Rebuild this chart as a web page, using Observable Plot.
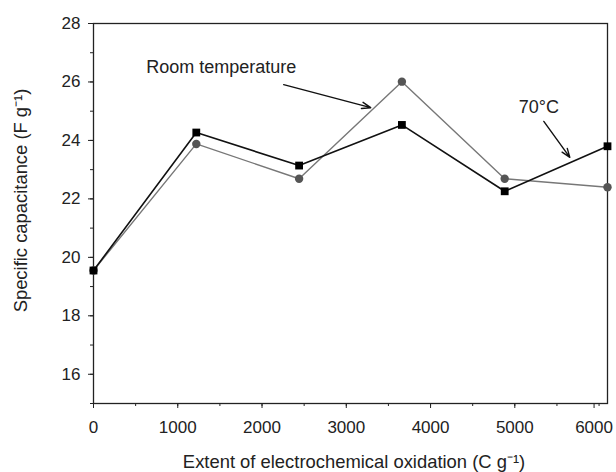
<!DOCTYPE html>
<html>
<head>
<meta charset="utf-8">
<script src="https://cdn.jsdelivr.net/npm/d3@7"></script>
<script src="https://cdn.jsdelivr.net/npm/@observablehq/plot@0.6"></script>
<style>
  html, body { margin: 0; padding: 0; background: #fff; }
  #chart svg { display: block; }
</style>
</head>
<body>
<div id="chart"></div>
<script>
// Data
const oxidation = [0, 1220, 2440, 3660, 4880, 6100];
const cap70C = [19.55, 24.27, 23.14, 24.53, 22.26, 23.8];
const capRoom = [19.55, 23.88, 22.69, 26.01, 22.69, 22.4];
const xTicks = [0, 1000, 2000, 3000, 4000, 5000];
const xTickLast = [6000];
const yTicks = [16, 18, 20, 22, 24, 26, 28];
const xLabel = "Extent of electrochemical oxidation (C g⁻¹)";
const yLabel = "Specific capacitance (F g⁻¹)";

// Annotations
const labels = [
  {text: "Room temperature", x: 1515, y: 26.52},
  {text: "70°C", x: 5285, y: 25.12}
];
const arrows = [
  {x1: 2257, y1: 25.91, x2: 3290, y2: 25.12},
  {x1: 5344, y1: 24.65, x2: 5653, y2: 23.42}
];

const room = oxidation.map((x, i) => ({x, y: capRoom[i]}));
const hot = oxidation.map((x, i) => ({x, y: cap70C[i]}));

const chart = Plot.plot({
  width: 616,
  height: 472,
  marginLeft: 93,
  marginRight: 9,
  marginTop: 23,
  marginBottom: 69,
  style: {fontFamily: "'Liberation Sans', Arial, sans-serif", fontSize: "17px", color: "#222"},
  x: {domain: [0, 6100]},
  y: {domain: [15, 28]},
  marks: [
    Plot.frame({stroke: "#222", strokeWidth: 1.3}),
    Plot.axisX({ticks: d3.range(0, 6001, 500), tickSize: 3, text: null, label: null, stroke: "#222"}),
    Plot.axisX({ticks: xTicks, tickSize: 5, tickPadding: 12, tickFormat: d => String(d), stroke: "#222", fill: "#222", fontSize: 17, label: null}),
    Plot.axisX({ticks: xTickLast, tickSize: 5, tickPadding: 12, tickFormat: d => String(d), stroke: "#222", fill: "#222", fontSize: 17, label: null, dx: -5}),
    Plot.axisY({ticks: d3.range(15, 28.1, 1), tickSize: 3, text: null, label: null, stroke: "#222"}),
    Plot.axisY({ticks: yTicks, tickSize: 5, tickPadding: 8, stroke: "#222", fill: "#222", fontSize: 17, label: null}),
    Plot.text([xLabel], {text: d => d, frameAnchor: "bottom", dx: 3.5, dy: 58.5, textAnchor: "middle", lineAnchor: "middle", fontSize: 18.4, fill: "#222"}),
    Plot.text([yLabel], {text: d => d, frameAnchor: "left", dx: -72.5, dy: -13, rotate: -90, textAnchor: "middle", lineAnchor: "middle", fontSize: 18.4, fill: "#222"}),
    Plot.line(room, {x: "x", y: "y", stroke: "#777", strokeWidth: 1.4}),
    Plot.line(hot, {x: "x", y: "y", stroke: "#111", strokeWidth: 1.6}),
    Plot.dot(room, {x: "x", y: "y", r: 4.2, fill: "#555", stroke: "none"}),
    Plot.dot(hot, {x: "x", y: "y", symbol: "square", r: 4.4, fill: "#000", stroke: "none"}),
    Plot.text(labels, {x: "x", y: "y", text: "text", fontSize: 18, fill: "#222"}),
    Plot.arrow(arrows, {x1: "x1", y1: "y1", x2: "x2", y2: "y2", stroke: "#111", strokeWidth: 1.4, headLength: 10, headAngle: 40})
  ]
});
document.getElementById("chart").append(chart);
</script>
</body>
</html>
